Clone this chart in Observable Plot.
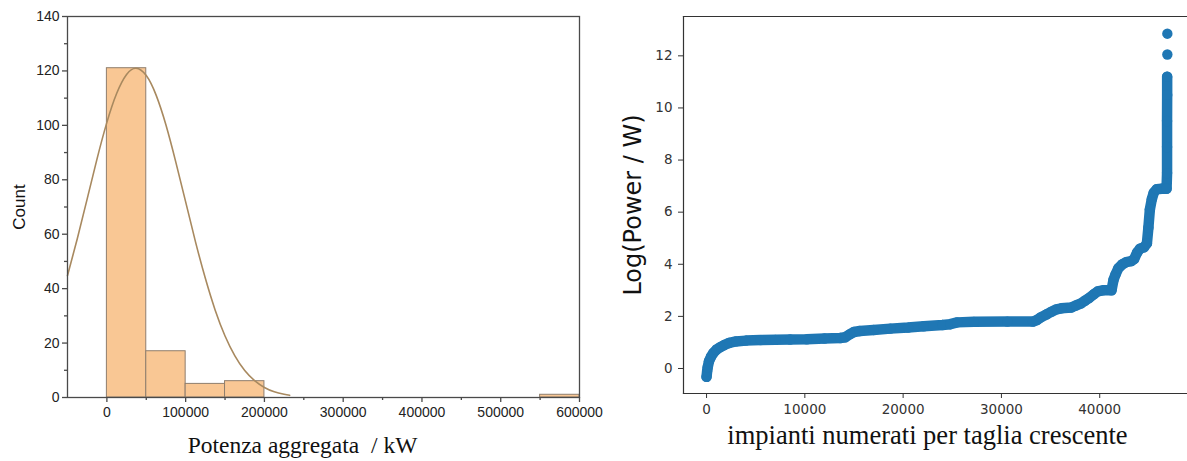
<!DOCTYPE html>
<html>
<head>
<meta charset="utf-8">
<script src="https://cdn.jsdelivr.net/npm/d3@7"></script>
<script src="https://cdn.jsdelivr.net/npm/@observablehq/plot@0.6"></script>
<style>
  html, body { margin: 0; padding: 0; background: #fff; }
  #wrap { position: relative; width: 1187px; height: 461px; overflow: hidden; background: #fff; }
  #left { position: absolute; left: 0; top: 0; }
  #right { position: absolute; left: 600px; top: 0; }
  svg { overflow: visible; }
</style>
</head>
<body>
<div id="wrap"><div id="left"></div><div id="right"></div></div>
<script>
// ---------- Left panel: histogram of aggregated power ----------
const binLo  = [0, 50000, 100000, 150000, 550000];
const binHi  = [50000, 100000, 150000, 200000, 600000];
const counts = [121, 17, 5, 6, 1];

// fitted (normal) curve
const fitX = [-50000, -37500, -25000, -12500, 0, 12500, 25000, 37000, 50000, 62500, 75000, 87500, 100000, 112500, 125000, 137500, 150000, 162500, 175000, 187500, 200000, 212500, 225000, 232000];
const fitY = [44.8, 58.4, 73.0, 87.7, 101.1, 111.8, 118.7, 121.0, 118.3, 111.1, 100.1, 86.5, 71.9, 57.2, 43.8, 32.1, 22.6, 15.3, 9.9, 6.2, 3.7, 2.1, 1.2, 0.8];

const leftXTicks = [0, 100000, 200000, 300000, 400000, 500000, 600000];
const leftXMinor = [50000, 150000, 250000, 350000, 450000, 550000];
const leftYTicks = [0, 20, 40, 60, 80, 100, 120, 140];
const leftYMinor = [10, 30, 50, 70, 90, 110, 130];
const leftXDomain = [-50000, 600000];
const leftYDomain = [0, 140];

// ---------- Right panel: sorted log power ----------
const rank = [0, 60, 120, 250, 450, 700, 1000, 1400, 1800, 2300, 3000, 4000, 5500, 7000, 8500, 10200, 12000, 13600, 14100, 14600, 15000, 15600, 17000, 18700, 20500, 22100, 24000, 24800, 25500, 27200, 30600, 33200, 33600, 34000, 34600, 35100, 35600, 36100, 37100, 37600, 38100, 38500, 38900, 39400, 39800, 40300, 41200, 41400, 41600, 41900, 42300, 42700, 43200, 43500, 43800, 44100, 44500, 44800, 44950, 45100, 45300, 45500, 45800, 46300, 46800, 46850, 46850, 46850, 46860, 46860];
const logPower = [-0.32, -0.1, 0.05, 0.28, 0.45, 0.6, 0.72, 0.82, 0.9, 0.98, 1.04, 1.07, 1.09, 1.1, 1.11, 1.12, 1.15, 1.17, 1.2, 1.32, 1.4, 1.44, 1.48, 1.53, 1.57, 1.62, 1.67, 1.7, 1.77, 1.79, 1.8, 1.8, 1.86, 1.96, 2.08, 2.18, 2.27, 2.31, 2.34, 2.42, 2.5, 2.6, 2.7, 2.85, 2.96, 3.0, 3.0, 3.4, 3.6, 3.85, 4.0, 4.08, 4.12, 4.2, 4.45, 4.6, 4.65, 4.8, 5.4, 6.1, 6.5, 6.75, 6.88, 6.9, 6.9, 7.5, 8.5, 9.5, 10.5, 11.2];
const outlierRank = [46880, 46880];
const outlierLog  = [12.05, 12.85];

const rightXTicks = [0, 10000, 20000, 30000, 40000];
const rightYTicks = [0, 2, 4, 6, 8, 10, 12];
const rightXDomain = [-2345, 48930];
const rightYDomain = [-0.96, 13.51];

// ---------- build tables ----------
const bins = binLo.map((lo, i) => ({lo, hi: binHi[i], count: counts[i]}));
const fit = fitX.map((x, i) => ({x, y: fitY[i]}));
const band = rank.map((r, i) => ({rank: r, logP: logPower[i]}));
const outliers = outlierRank.map((r, i) => ({rank: r, logP: outlierLog[i]}));
const fmt = d => String(d);

const sans = "'Liberation Sans', Arial, sans-serif";
const serif = "'Liberation Serif', 'Times New Roman', serif";
const axisCol = "#4a4a4a";

const left = Plot.plot({
  width: 600, height: 461,
  marginLeft: 67, marginRight: 21, marginTop: 16, marginBottom: 64,
  style: {fontFamily: sans, fontSize: "14px", color: "#222", background: "transparent", overflow: "visible"},
  x: {domain: leftXDomain},
  y: {domain: leftYDomain},
  marks: [
    Plot.rectY(bins, {x1: "lo", x2: "hi", y: "count", fill: "#f9c794", stroke: "#8f7e6d", strokeWidth: 1}),
    Plot.line(fit, {x: "x", y: "y", stroke: "#a8895f", strokeWidth: 1.6, curve: "natural"}),
    Plot.frame({stroke: axisCol, strokeWidth: 1.3}),
    Plot.axisY(leftYTicks, {tickSize: 5, tickPadding: 3, tickFormat: fmt, label: null, stroke: axisCol, strokeWidth: 1.3}),
    Plot.axisY(leftYMinor, {tickSize: 3, tickFormat: () => "", label: null, stroke: axisCol, strokeWidth: 1.3}),
    Plot.axisX(leftXTicks, {tickSize: 5, tickPadding: 5, tickFormat: fmt, label: null, stroke: axisCol, strokeWidth: 1.3}),
    Plot.axisX(leftXMinor, {tickSize: 3, tickFormat: () => "", label: null, stroke: axisCol, strokeWidth: 1.3}),
    Plot.text(["Count"], {text: d => d, frameAnchor: "left", textAnchor: "middle", rotate: -90, dx: -48, fontSize: 17, fontFamily: sans, fill: "#111"}),
    Plot.text(["Potenza aggregata\u00a0 / kW"], {text: d => d, frameAnchor: "bottom", textAnchor: "middle", dx: -21, dy: 55, fontSize: 23.5, fontFamily: serif, fill: "#111"})
  ]
});
document.getElementById("left").appendChild(left);

const blue = "#1f77b4";
const right = Plot.plot({
  width: 587, height: 461,
  marginLeft: 83, marginRight: 0, marginTop: 16, marginBottom: 68,
  style: {fontFamily: "'DejaVu Sans', sans-serif", fontSize: "13.5px", color: "#333", background: "transparent", overflow: "visible"},
  x: {domain: rightXDomain},
  y: {domain: rightYDomain},
  marks: [
    Plot.frame({anchor: "left", stroke: "#333", strokeWidth: 1.2}),
    Plot.frame({anchor: "top", stroke: "#333", strokeWidth: 1.2}),
    Plot.frame({anchor: "bottom", stroke: "#333", strokeWidth: 1.2}),
    Plot.line(band, {x: "rank", y: "logP", stroke: blue, strokeWidth: 10.5, strokeLinecap: "round", strokeLinejoin: "round"}),
    Plot.dot(band, {x: "rank", y: "logP", r: 5.2, fill: blue}),
    Plot.dot(outliers, {x: "rank", y: "logP", r: 5.2, fill: blue}),
    Plot.axisY(rightYTicks, {tickSize: 5, tickPadding: 6, tickFormat: fmt, label: null, stroke: "#333"}),
    Plot.axisX(rightXTicks, {tickSize: 5, tickPadding: 6, tickFormat: fmt, label: null, stroke: "#333"}),
    Plot.text(["Log(Power / W)"], {text: d => d, frameAnchor: "left", textAnchor: "middle", rotate: -90, dx: -50, fontSize: 24, fontFamily: "'DejaVu Sans', sans-serif", fill: "#111"}),
    Plot.text(["impianti numerati per taglia crescente"], {text: d => d, frameAnchor: "bottom", textAnchor: "middle", dx: -8, dy: 50, fontSize: 26.5, fontFamily: serif, fill: "#111"})
  ]
});
document.getElementById("right").appendChild(right);
</script>
</body>
</html>
